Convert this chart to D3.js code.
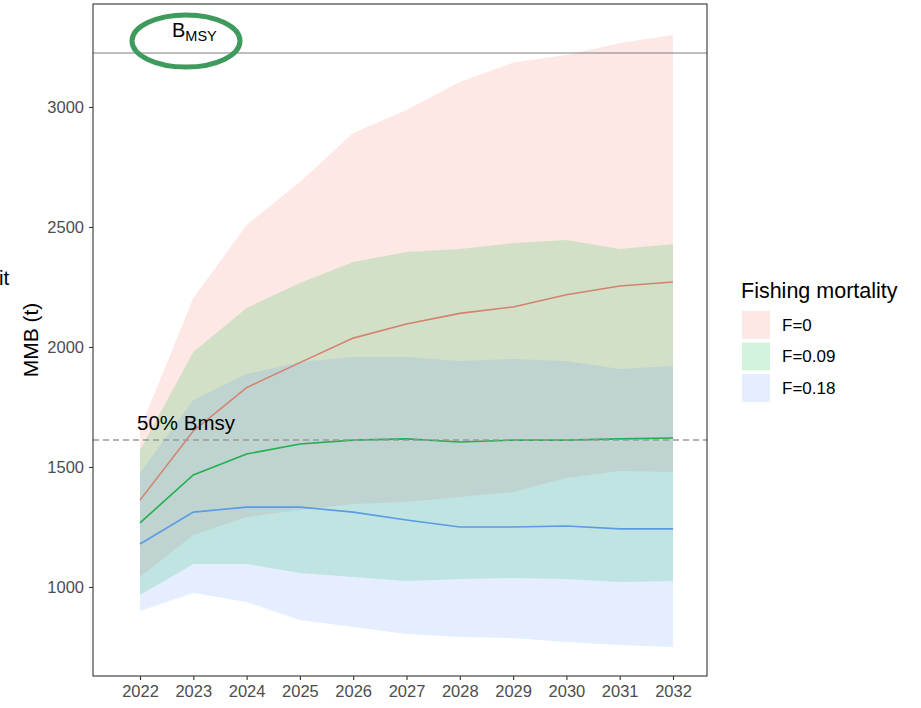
<!DOCTYPE html>
<html>
<head>
<meta charset="utf-8">
<script src="https://cdn.jsdelivr.net/npm/d3@7"></script>
<style>
  html, body { margin: 0; padding: 0; background: #fff; }
  svg { display: block; font-family: "Liberation Sans", Arial, sans-serif; }
</style>
</head>
<body>
<svg id="chart" width="921" height="708"></svg>
<script>
// ---- data ----
const years = [2022, 2023, 2024, 2025, 2026, 2027, 2028, 2029, 2030, 2031, 2032];
const seriesNames = ["F=0", "F=0.09", "F=0.18"];
const f0Median  = [1362, 1650, 1831, 1935, 2037, 2096, 2140, 2167, 2218, 2254, 2271];
const f0Lower   = [1042, 1217, 1292, 1321, 1346, 1354, 1375, 1396, 1454, 1483, 1479];
const f0Upper   = [1658, 2204, 2508, 2688, 2892, 2988, 3104, 3185, 3217, 3267, 3300];
const f009Median = [1267, 1467, 1554, 1596, 1612, 1617, 1604, 1612, 1612, 1617, 1621];
const f009Lower  = [967, 1096, 1096, 1058, 1042, 1025, 1033, 1038, 1033, 1021, 1025];
const f009Upper  = [1571, 1979, 2162, 2267, 2354, 2396, 2408, 2433, 2446, 2408, 2429];
const f018Median = [1179, 1312, 1333, 1333, 1312, 1279, 1250, 1250, 1254, 1242, 1242];
const f018Lower  = [900, 975, 937, 863, 833, 804, 792, 787, 771, 758, 750];
const f018Upper  = [1475, 1779, 1887, 1937, 1958, 1958, 1942, 1950, 1942, 1908, 1921];
const yTicks = [1000, 1500, 2000, 2500, 3000];
const bmsy = 3225;
const halfBmsy = bmsy / 2;

const fillColors = ["#F8766D", "#00BA38", "#619CFF"];
const lineColors = ["#D4826F", "#22AF4E", "#5B9BE6"];

const series = [
  { name: seriesNames[0], med: f0Median, lo: f0Lower, hi: f0Upper },
  { name: seriesNames[1], med: f009Median, lo: f009Lower, hi: f009Upper },
  { name: seriesNames[2], med: f018Median, lo: f018Lower, hi: f018Upper }
];

// ---- layout ----
const panel = { left: 93, right: 707, top: 4, bottom: 676 };
const svg = d3.select("#chart");

const x = d3.scaleLinear().domain([2022, 2032]).range([140, 673]);
const y = d3.scaleLinear().domain([1000, 3000]).range([587, 107]);

// ribbons
const area = d3.area()
  .x((d, i) => x(years[i]))
  .y0(d => y(d[0]))
  .y1(d => y(d[1]));

series.forEach((s, k) => {
  const pts = years.map((yr, i) => [s.lo[i], s.hi[i]]);
  svg.append("path")
    .attr("d", area(pts))
    .attr("fill", fillColors[k])
    .attr("fill-opacity", 0.17);
});

// lines
const line = d3.line().x((d, i) => x(years[i])).y(d => y(d));
series.forEach((s, k) => {
  svg.append("path")
    .attr("d", line(s.med))
    .attr("fill", "none")
    .attr("stroke", lineColors[k])
    .attr("stroke-width", 1.6);
});

// reference lines
svg.append("line")
  .attr("x1", panel.left).attr("x2", panel.right)
  .attr("y1", y(bmsy)).attr("y2", y(bmsy))
  .attr("stroke", "#7f7f7f").attr("stroke-width", 1.1);
svg.append("line")
  .attr("x1", panel.left).attr("x2", panel.right)
  .attr("y1", y(halfBmsy)).attr("y2", y(halfBmsy))
  .attr("stroke", "#999").attr("stroke-width", 1.3)
  .attr("stroke-dasharray", "6,4");

// panel border
svg.append("rect")
  .attr("x", panel.left).attr("y", panel.top)
  .attr("width", panel.right - panel.left).attr("height", panel.bottom - panel.top)
  .attr("fill", "none").attr("stroke", "#333").attr("stroke-width", 1.1);

// axes
const yAxis = svg.append("g")
  .attr("transform", `translate(${panel.left},0)`)
  .call(d3.axisLeft(y).tickValues(yTicks).tickSize(4).tickPadding(5).tickFormat(d3.format("d")));
const xAxis = svg.append("g")
  .attr("transform", `translate(0,${panel.bottom})`)
  .call(d3.axisBottom(x).tickValues(years).tickSize(4).tickPadding(5).tickFormat(d3.format("d")));
[yAxis, xAxis].forEach(g => {
  g.select(".domain").remove();
  g.selectAll(".tick line").attr("stroke", "#333").attr("stroke-width", 1.1);
  g.selectAll(".tick text").attr("fill", "#4d4d4d")
    .style("font-size", "16.5px").style("font-family", "Liberation Sans, Arial, sans-serif");
});

// axis title
svg.append("text")
  .attr("transform", "translate(37.5,340) rotate(-90)")
  .attr("text-anchor", "middle")
  .style("font-size", "21px")
  .attr("fill", "#000")
  .text("MMB (t)");

// clipped leftover label
svg.append("text")
  .attr("x", -1).attr("y", 285)
  .style("font-size", "20.5px")
  .attr("fill", "#000")
  .text("it");

// annotations
svg.append("text")
  .attr("x", 137).attr("y", 430)
  .style("font-size", "20.5px")
  .attr("fill", "#000")
  .text("50% Bmsy");

const bl = svg.append("text")
  .attr("x", 172).attr("y", 37)
  .style("font-size", "20px")
  .attr("fill", "#000");
bl.append("tspan").text("B");
bl.append("tspan").attr("dy", 4).style("font-size", "14.5px").text("MSY");

svg.append("ellipse")
  .attr("cx", 186).attr("cy", 41)
  .attr("rx", 54).attr("ry", 26)
  .attr("fill", "none")
  .attr("stroke", "#3F9A5E")
  .attr("stroke-width", 5);

// legend
const lg = svg.append("g");
lg.append("text")
  .attr("x", 741).attr("y", 298)
  .style("font-size", "21.5px")
  .attr("fill", "#000")
  .text("Fishing mortality");
seriesNames.forEach((n, i) => {
  const top = 311 + i * 31.5;
  lg.append("rect")
    .attr("x", 742).attr("y", top)
    .attr("width", 28).attr("height", 28)
    .attr("fill", fillColors[i]).attr("fill-opacity", 0.17);
  lg.append("text")
    .attr("x", 782).attr("y", top + 14)
    .attr("dy", "0.35em")
    .style("font-size", "17px")
    .attr("fill", "#000")
    .text(n);
});
</script>
</body>
</html>
